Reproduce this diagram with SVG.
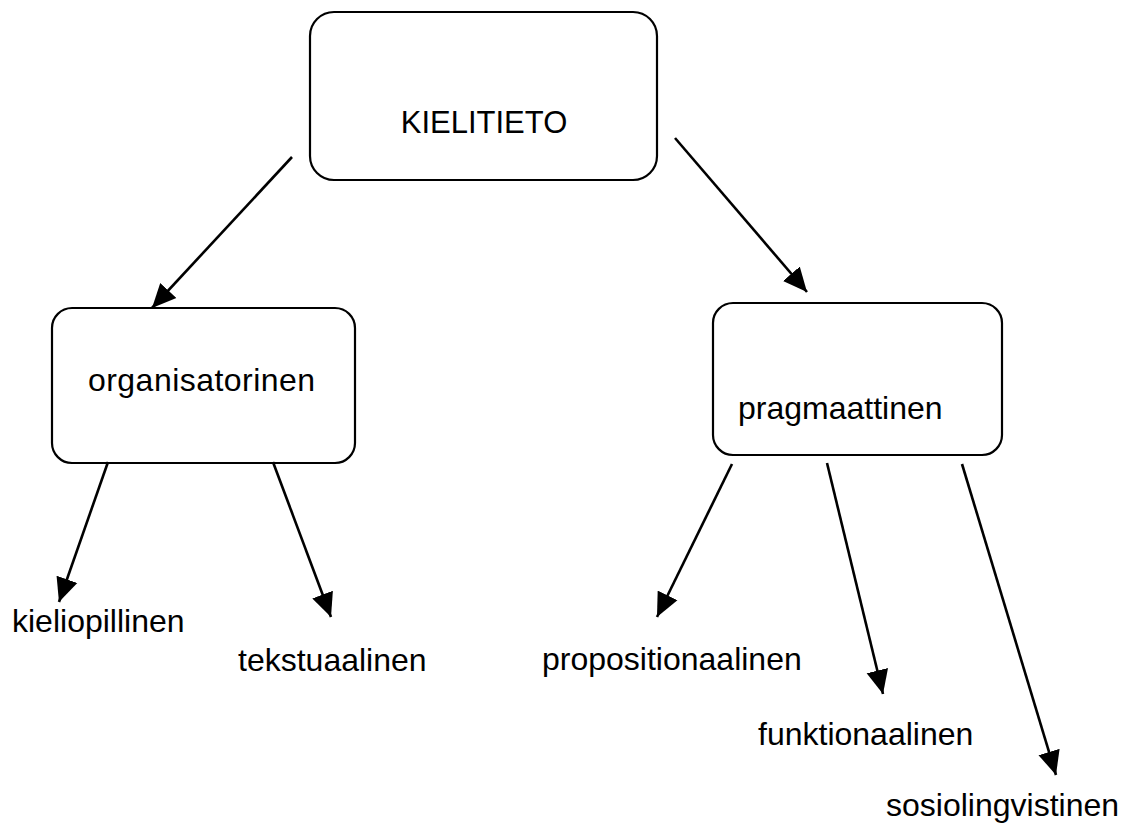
<svg xmlns="http://www.w3.org/2000/svg" width="1128" height="824" viewBox="0 0 1128 824">
  <style>
    .box { fill: #ffffff; stroke: #000000; stroke-width: 2.2; }
    .lbl { font-family: "Liberation Sans", Arial, sans-serif; font-size: 32px; fill: #000000; }
    .edge { stroke: #000000; stroke-width: 2.6; fill: none; marker-end: url(#head); }
  </style>
  <defs>
    <marker id="head" markerUnits="userSpaceOnUse" markerWidth="26" markerHeight="24" viewBox="0 0 26 24" refX="24" refY="12" orient="auto">
      <path d="M0,1 L24,12 L0,23 Z" fill="#000000"/>
    </marker>
  </defs>
  <rect width="1128" height="824" fill="#ffffff"/>

  <g id="kielitieto">
    <rect class="box" x="310" y="12" width="347" height="168" rx="24"/>
    <text class="lbl" x="484" y="133" text-anchor="middle" style="font-size:31px">KIELITIETO</text>
  </g>

  <g id="organisatorinen">
    <rect class="box" x="52" y="308" width="303" height="155" rx="20"/>
    <text class="lbl" x="88" y="391" textLength="227">organisatorinen</text>
  </g>

  <g id="pragmaattinen">
    <rect class="box" x="713" y="303" width="289" height="152" rx="20"/>
    <text class="lbl" x="738" y="419">pragmaattinen</text>
  </g>

  <g id="kieliopillinen">
    <text class="lbl" x="12" y="632">kieliopillinen</text>
  </g>
  <g id="tekstuaalinen">
    <text class="lbl" x="238" y="671">tekstuaalinen</text>
  </g>
  <g id="propositionaalinen">
    <text class="lbl" x="542" y="670">propositionaalinen</text>
  </g>
  <g id="funktionaalinen">
    <text class="lbl" x="758" y="745">funktionaalinen</text>
  </g>
  <g id="sosiolingvistinen">
    <text class="lbl" x="886" y="816">sosiolingvistinen</text>
  </g>

  <g id="connectors">
    <line class="edge" x1="292" y1="157" x2="152" y2="308"/>
    <line class="edge" x1="675" y1="138" x2="807" y2="292"/>
    <line class="edge" x1="108" y1="462" x2="59" y2="602"/>
    <line class="edge" x1="273" y1="462" x2="331" y2="617"/>
    <line class="edge" x1="732" y1="464" x2="657" y2="617"/>
    <line class="edge" x1="827" y1="463" x2="883" y2="694"/>
    <line class="edge" x1="962" y1="464" x2="1056" y2="775"/>
  </g>
</svg>
